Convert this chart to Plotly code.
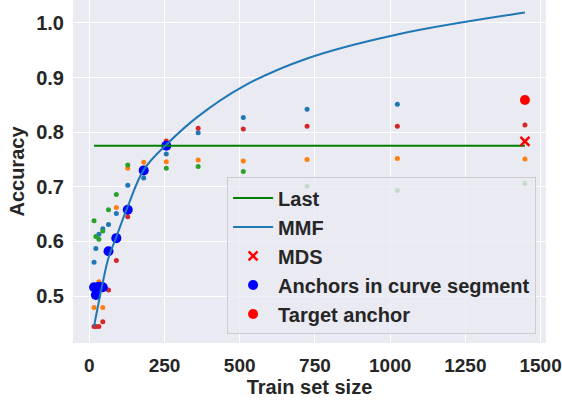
import plotly.graph_objects as go

train_sizes = [16, 22, 32, 45, 64, 90, 128, 181, 256, 362, 512, 724, 1024, 1448]

series_blue = [0.562, 0.587, 0.613, 0.623, 0.631, 0.651, 0.703, 0.716, 0.760, 0.799, 0.827, 0.842, 0.851, 0.859]
series_orange = [0.479, 0.510, 0.526, 0.479, 0.585, 0.662, 0.734, 0.745, 0.746, 0.749, 0.747, 0.750, 0.752, 0.751]
series_green = [0.638, 0.609, 0.604, 0.619, 0.658, 0.686, 0.740, 0.729, 0.734, 0.737, 0.728, 0.701, 0.693, 0.706]
series_red = [0.444, 0.444, 0.444, 0.453, 0.511, 0.565, 0.645, 0.729, 0.784, 0.807, 0.806, 0.811, 0.811, 0.813]

anchor_x = [16, 22, 32, 45, 64, 90, 128, 181, 256]
anchor_y = [0.516, 0.502, 0.517, 0.516, 0.582, 0.606, 0.658, 0.730, 0.775]

target_x = [1448]
target_y = [0.859]
mds_x = [1448]
mds_y = [0.783]

last_x = [16, 1448]
last_y = [0.775, 0.775]

mmf_x = [16, 22, 32, 45, 64, 90, 128, 181, 256, 362, 512, 724, 1024, 1448]
mmf_y = [0.444, 0.462, 0.490, 0.525, 0.570, 0.608, 0.664, 0.731, 0.777, 0.829, 0.884, 0.935, 0.979, 1.019]

x_ticks = [0, 250, 500, 750, 1000, 1250, 1500]
y_ticks = [0.5, 0.6, 0.7, 0.8, 0.9, 1.0]

FONT = "Liberation Sans"
TXT = "#262626"
FS = 20

fig = go.Figure()
for vals, col in [(series_blue, "#1f77b4"), (series_orange, "#ff7f0e"),
                  (series_green, "#2ca02c"), (series_red, "#d62728")]:
    fig.add_trace(go.Scatter(x=train_sizes, y=vals, mode="markers",
                             marker=dict(color=col, size=5), showlegend=False,
                             hoverinfo="skip"))

fig.add_trace(go.Scatter(x=anchor_x, y=anchor_y, mode="markers", name="Anchors in curve segment",
                         marker=dict(color="#0000ff", size=10), legendrank=4))
fig.add_trace(go.Scatter(x=target_x, y=target_y, mode="markers", name="Target anchor",
                         marker=dict(color="#ff0000", size=10), legendrank=5))
fig.add_trace(go.Scatter(x=last_x, y=last_y, mode="lines", name="Last",
                         line=dict(color="#008000", width=2), legendrank=1))
fig.add_trace(go.Scatter(x=mmf_x, y=mmf_y, mode="lines", name="MMF",
                         line=dict(color="#1f77b4", width=2, shape="spline", smoothing=1.0),
                         legendrank=2))
fig.add_trace(go.Scatter(x=mds_x, y=mds_y, mode="markers", name="MDS",
                         marker=dict(color="#ff0000", size=9, symbol="x-thin",
                                     line=dict(color="#ff0000", width=2.5)),
                         legendrank=3))

fig.update_layout(
    width=562, height=401,
    margin=dict(l=73, r=16, t=0, b=58, pad=0),
    paper_bgcolor="white",
    plot_bgcolor="#eaeaf2",
    font=dict(family=FONT, size=FS, color=TXT, weight="bold"),
    legend=dict(x=0.979, y=0.025, xanchor="right", yanchor="bottom",
                bgcolor="rgba(234,234,242,0.8)", bordercolor="#cccccc", borderwidth=1,
                font=dict(family=FONT, size=FS, color=TXT, weight="bold"),
                tracegroupgap=0, itemwidth=40),
)
fig.update_xaxes(range=[-54, 1518], tickvals=x_ticks, showgrid=True, gridcolor="white",
                 gridwidth=1.2, zeroline=False, showline=False, ticks="",
                 ticklabelstandoff=9,
                 tickfont=dict(family=FONT, size=19, color=TXT, weight="bold"),
                 title=dict(text="Train set size", standoff=4,
                            font=dict(family=FONT, size=FS, color=TXT, weight="bold")),
                 automargin=False)
fig.update_yaxes(range=[0.414, 1.042], tickvals=y_ticks, tickformat=".1f", showgrid=True,
                 gridcolor="white", gridwidth=1.2, zeroline=False, showline=False, ticks="",
                 ticklabelstandoff=8,
                 title=dict(text="Accuracy", standoff=6,
                            font=dict(family=FONT, size=FS, color=TXT, weight="bold")),
                 automargin=False)

fig.write_html("out.html")
